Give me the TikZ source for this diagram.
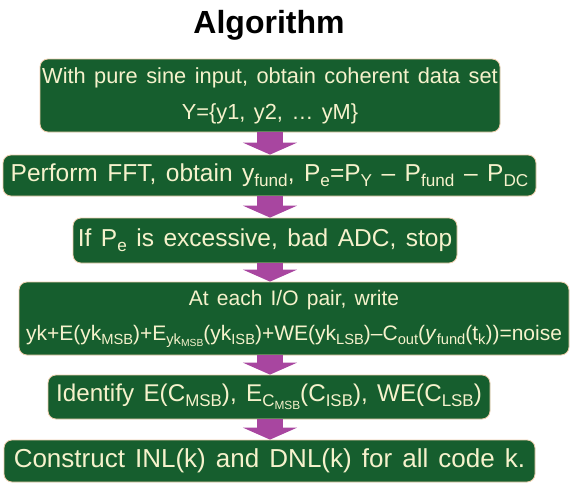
\documentclass[tikz,border=0pt]{standalone}
\usepackage{fontspec}
\setmainfont[WordSpace=1.4]{Liberation Sans}
\usepackage{graphicx}
\usetikzlibrary{arrows.meta}
\definecolor{boxgreen}{RGB}{22,94,46}
\definecolor{boxrim}{RGB}{238,205,172}
\definecolor{boxtext}{RGB}{246,242,204}
\definecolor{arrowpink}{RGB}{168,70,160}
\newcommand{\lo}[1]{\raisebox{-0.35ex}{\scalebox{0.7}{#1}}}
\tikzset{
  stepbox/.style={draw=boxrim,line width=0.8pt,fill=boxgreen,text=boxtext,
    rounded corners=8pt,align=center,inner sep=0pt},
  flow/.style={arrowpink,line width=26pt,-{Triangle[width=54pt,length=12pt]}}
}

\begin{document}
\begin{tikzpicture}[x=1pt,y=-1pt]
  \useasboundingbox (0,0) rectangle (574,483);
  \node[anchor=base,font=\bfseries\fontsize{32}{36}\selectfont] (title) at (269,33) {Algorithm};

  \node[stepbox,minimum width=460pt,minimum height=73pt,font=\fontsize{21.8}{36}\selectfont] (s1) at (270,95.5)
    {With pure sine input, obtain coherent data set\\Y=\{y1,\ y2,\ \dots\ yM\}};
  \node[stepbox,minimum width=533pt,minimum height=41pt,font=\fontsize{24.5}{28}\selectfont] (s2) at (269.5,175.5)
    {Perform FFT, obtain y\lo{fund}, P\lo{e}=P\lo{Y} -- P\lo{fund} -- P\lo{DC}};
  \node[stepbox,minimum width=384pt,minimum height=45pt,font=\fontsize{24.5}{28}\selectfont] (s3) at (265,240.5)
    {If P\lo{e} is excessive,\ bad ADC, stop};
  \node[stepbox,minimum width=550pt,minimum height=73pt,font=\fontsize{21}{35}\selectfont] (s4) at (294,318.5)
    {At each I/O pair, write\\yk+E(yk\lo{MSB})+E\lo{yk\lo{MSB}}(yk\lo{ISB})+WE(yk\lo{LSB})--C\lo{out}(\textit{y}\lo{fund}(t\lo{k}))=noise};
  \node[stepbox,minimum width=442pt,minimum height=44pt,font=\fontsize{24.2}{27}\selectfont] (s5) at (269,397)
    {Identify\ E(C\lo{MSB}), E\lo{C\lo{MSB}}(C\lo{ISB}), WE(C\lo{LSB})};
  \node[stepbox,minimum width=531pt,minimum height=42pt,font=\fontsize{26}{29}\selectfont] (s6) at (269.5,461)
    {Construct INL(k) and DNL(k) for all\ code k.};

  \draw[flow] (s1.south) -- (s2.north -| s1.south);
  \draw[flow] (s2.south -| s1.south) -- (s3.north -| s1.south);
  \draw[flow] (s3.south -| s1.south) -- (s4.north -| s1.south);
  \draw[flow] (s4.south -| s1.south) -- (s5.north -| s1.south);
  \draw[flow] (s5.south -| s1.south) -- (s6.north -| s1.south);
\end{tikzpicture}
\end{document}
